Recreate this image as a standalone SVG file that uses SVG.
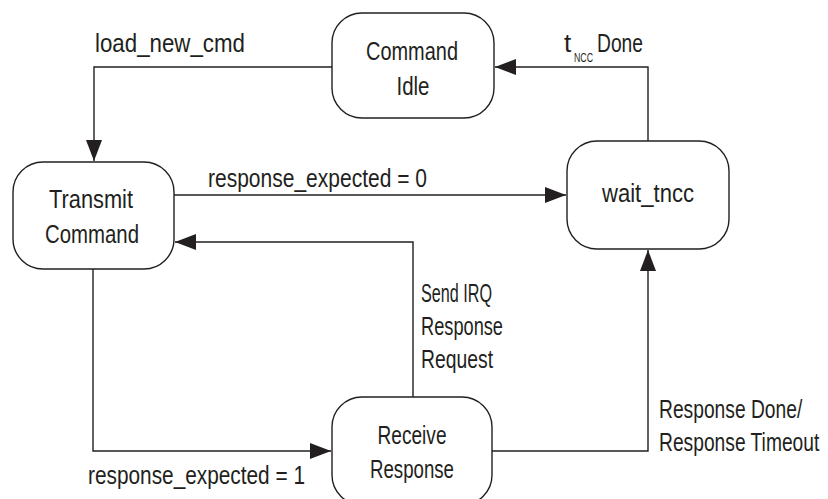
<svg xmlns="http://www.w3.org/2000/svg" width="828" height="499" viewBox="0 0 828 499">
<style>
.node{fill:#fff;stroke:#231f20;stroke-width:1.4}
.conn{fill:none;stroke:#231f20;stroke-width:1.4}
text{font-family:"Liberation Sans",Arial,sans-serif;font-size:26px;fill:#231f20}
.c{text-anchor:middle}
.sub{font-size:13px}
</style>
<defs>
<marker id="arr" viewBox="0 0 21 16" refX="21" refY="8" markerWidth="21" markerHeight="16" markerUnits="userSpaceOnUse" orient="auto">
<path d="M0,0 L21,8 L0,16 Z" fill="#231f20"/>
</marker>
</defs>
<rect width="828" height="499" fill="#fff"/>
<g id="connectors">
<path class="conn" d="M332,67 H94 V161" marker-end="url(#arr)"/>
<path class="conn" d="M648,141 V67 H495" marker-end="url(#arr)"/>
<path class="conn" d="M174,195 H566" marker-end="url(#arr)"/>
<path class="conn" d="M413,397 V242 H175" marker-end="url(#arr)"/>
<path class="conn" d="M93,269 V451 H331" marker-end="url(#arr)"/>
<path class="conn" d="M492,451 H648 V250" marker-end="url(#arr)"/>
<text x="95" y="52" textLength="150" lengthAdjust="spacingAndGlyphs">load_new_cmd</text>
<text x="564" y="52">t</text>
<text class="sub" x="574" y="62" textLength="19" lengthAdjust="spacingAndGlyphs">NCC</text>
<text x="597" y="52" textLength="46" lengthAdjust="spacingAndGlyphs">Done</text>
<text x="208" y="187" textLength="219" lengthAdjust="spacingAndGlyphs">response_expected = 0</text>
<text x="421" y="302" textLength="71" lengthAdjust="spacingAndGlyphs">Send IRQ</text>
<text x="421" y="335" textLength="82" lengthAdjust="spacingAndGlyphs">Response</text>
<text x="421" y="368" textLength="72" lengthAdjust="spacingAndGlyphs">Request</text>
<text transform="translate(659,418) scale(0.74,1)">Response Done/</text>
<text transform="translate(659,451) scale(0.74,1)">Response Timeout</text>
<text x="88" y="484" textLength="217" lengthAdjust="spacingAndGlyphs">response_expected = 1</text>
</g>
<g id="command-idle">
<rect class="node" x="332" y="13" width="162" height="105" rx="30"/>
<text class="c" x="412" y="60" textLength="92" lengthAdjust="spacingAndGlyphs">Command</text>
<text class="c" x="413" y="95" textLength="33" lengthAdjust="spacingAndGlyphs">Idle</text>
</g>
<g id="transmit-command">
<rect class="node" x="13" y="162" width="161" height="107" rx="30"/>
<text class="c" x="91" y="208" textLength="84" lengthAdjust="spacingAndGlyphs">Transmit</text>
<text class="c" x="92" y="243" textLength="94" lengthAdjust="spacingAndGlyphs">Command</text>
</g>
<g id="wait-tncc">
<rect class="node" x="567" y="141" width="162" height="108" rx="30"/>
<text class="c" x="648" y="202" textLength="92" lengthAdjust="spacingAndGlyphs">wait_tncc</text>
</g>
<g id="receive-response">
<rect class="node" x="332" y="397" width="160" height="108" rx="30"/>
<text class="c" x="412" y="444" textLength="69" lengthAdjust="spacingAndGlyphs">Receive</text>
<text class="c" x="412" y="478" textLength="84" lengthAdjust="spacingAndGlyphs">Response</text>
</g>
</svg>
